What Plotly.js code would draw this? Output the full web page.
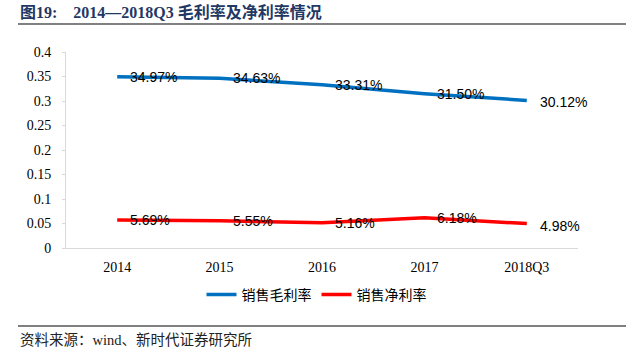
<!DOCTYPE html>
<html>
<head>
<meta charset="utf-8">
<script src="https://cdn.plot.ly/plotly-3.0.1.min.js"></script>
<style>html,body{margin:0;padding:0;background:#fff;}#chart{width:633px;height:354px;}</style>
</head>
<body>
<div id="chart"></div>
<script>
const categories = ["2014", "2015", "2016", "2017", "2018Q3"];
const grossMargin = [0.3497, 0.3463, 0.3331, 0.3150, 0.3012];
const netMargin = [0.0569, 0.0555, 0.0516, 0.0618, 0.0498];
const grossName = "销售毛利率";
const netName = "销售净利率";
const titleText = "<b>图19:    2014—2018Q3 毛利率及净利率情况</b>";
const sourceText = "资料来源：wind、新时代证券研究所";

const catIndex = categories.map((c, i) => i);

// plot area: x 66..578, y 52..248 px
const PL = 66, PW = 512, PT = 52, PH = 196;
const toPx = x => (x - PL) / PW;
const toPy = y => (PT + PH - y) / PH;

const traces = [
  {x: catIndex, y: grossMargin, name: grossName, type: "scatter", mode: "lines",
   line: {color: "#0070C0", width: 3.5}},
  {x: catIndex, y: netMargin, name: netName, type: "scatter", mode: "lines",
   line: {color: "#FF0000", width: 3.5}}
];

const annotations = [];
[grossMargin, netMargin].forEach(series => {
  series.forEach((v, i) => {
    annotations.push({
      x: catIndex[i], y: v, xref: "x", yref: "y",
      text: (v * 100).toFixed(2) + "%", showarrow: false,
      xanchor: "left", yanchor: "middle", xshift: 11, yshift: i === 4 ? -2 : 0,
      font: {family: "Liberation Sans, Arial, sans-serif", size: 14, color: "#000"}
    });
  });
});
annotations.push({
  xref: "paper", yref: "paper", x: toPx(18), y: toPy(12), xanchor: "left", yanchor: "middle",
  text: titleText, showarrow: false,
  font: {family: "Liberation Serif, Noto Sans CJK SC, serif", size: 16, color: "#1F3864"}
});
annotations.push({
  xref: "paper", yref: "paper", x: toPx(18), y: toPy(340), xanchor: "left", yanchor: "middle",
  text: sourceText, showarrow: false,
  font: {family: "Liberation Serif, Noto Sans CJK SC, serif", size: 14.5, color: "#222"}
});

const tickFont = {family: "Liberation Serif, Times New Roman, serif", size: 14, color: "#000"};

const layout = {
  width: 633, height: 354,
  margin: {l: PL, r: 633 - PL - PW, t: PT, b: 354 - PT - PH, pad: 0, autoexpand: false},
  paper_bgcolor: "#fff", plot_bgcolor: "#fff",
  showlegend: true,
  legend: {orientation: "h", x: toPx(316.5), xanchor: "center",
           y: toPy(295), yanchor: "middle",
           font: {family: "Noto Sans CJK SC, sans-serif", size: 14, color: "#000"},
           tracegroupgap: 0},
  xaxis: {type: "linear", range: [-0.5, categories.length - 0.5],
          tickmode: "array", tickvals: catIndex, ticktext: categories,
          showgrid: false, zeroline: false, showline: true,
          linecolor: "#D9D9D9", linewidth: 1,
          ticks: "outside", ticklen: 6, tickcolor: "rgba(0,0,0,0)",
          tickfont: tickFont, fixedrange: true, automargin: false},
  yaxis: {range: [0, 0.4], dtick: 0.05, showgrid: false, zeroline: false, showline: true,
          linecolor: "#D9D9D9", linewidth: 1, ticks: "outside", ticklen: 3, tickcolor: "#D9D9D9",
          ticklabelstandoff: 8,
          tickfont: tickFont, fixedrange: true, automargin: false},
  annotations: annotations,
  shapes: [
    {type: "line", xref: "paper", yref: "paper", x0: toPx(18), x1: toPx(626), y0: toPy(24), y1: toPy(24),
     line: {color: "#808080", width: 2}},
    {type: "line", xref: "paper", yref: "paper", x0: toPx(18), x1: toPx(626), y0: toPy(326), y1: toPy(326),
     line: {color: "#808080", width: 2}}
  ]
};

Plotly.newPlot("chart", traces, layout, {displayModeBar: false, staticPlot: true});
</script>
</body>
</html>
